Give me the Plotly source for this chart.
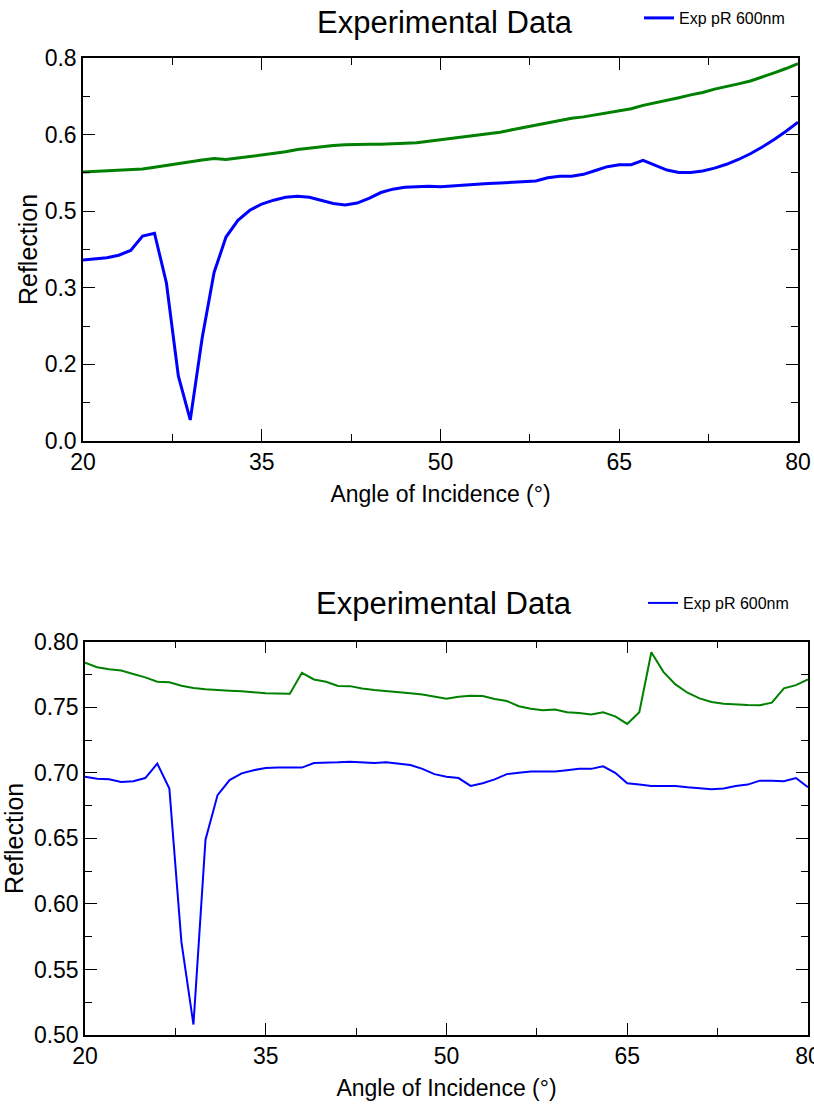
import plotly.graph_objects as go

# Angles of incidence, one reading per degree
angle = list(range(20, 81))

# Upper panel: reflectance curves
upper_pR = [0.378, 0.380, 0.383, 0.388, 0.398, 0.428, 0.434, 0.330, 0.136, 0.044,
            0.215, 0.352, 0.426, 0.461, 0.482, 0.495, 0.503, 0.509, 0.511, 0.509,
            0.503, 0.496, 0.493, 0.497, 0.507, 0.519, 0.526, 0.530, 0.531, 0.532,
            0.531, 0.533, 0.535, 0.537, 0.538, 0.539, 0.540, 0.542, 0.543, 0.550,
            0.553, 0.553, 0.557, 0.565, 0.573, 0.577, 0.577, 0.586, 0.576, 0.566,
            0.561, 0.561, 0.564, 0.570, 0.578, 0.588, 0.600, 0.614, 0.630, 0.647,
            0.666]
upper_ref = [0.562, 0.563, 0.564, 0.566, 0.567, 0.568, 0.572, 0.576, 0.580, 0.584,
             0.587, 0.590, 0.588, 0.591, 0.594, 0.597, 0.601, 0.604, 0.609, 0.612,
             0.615, 0.617, 0.619, 0.620, 0.620, 0.620, 0.621, 0.621, 0.623, 0.626,
             0.629, 0.632, 0.635, 0.638, 0.641, 0.645, 0.650, 0.655, 0.660, 0.665,
             0.669, 0.674, 0.677, 0.681, 0.685, 0.690, 0.694, 0.701, 0.706, 0.711,
             0.717, 0.723, 0.728, 0.735, 0.740, 0.746, 0.752, 0.760, 0.769, 0.778,
             0.788]

# Lower panel: reflectance curves
lower_pR = [0.697, 0.6955, 0.695, 0.693, 0.6935, 0.696, 0.707, 0.688, 0.571, 0.508,
            0.649, 0.683, 0.6945, 0.6996, 0.702, 0.7037, 0.704, 0.704, 0.704, 0.7075,
            0.7075, 0.708, 0.7085, 0.708, 0.7075, 0.708, 0.707, 0.706, 0.703, 0.699,
            0.697, 0.696, 0.690, 0.692, 0.695, 0.699, 0.700, 0.701, 0.701, 0.701,
            0.702, 0.703, 0.703, 0.705, 0.700, 0.692, 0.691, 0.690, 0.690, 0.690,
            0.689, 0.688, 0.6875, 0.688, 0.690, 0.691, 0.694, 0.694, 0.6935, 0.696,
            0.689]
lower_ref = [0.784, 0.7805, 0.779, 0.778, 0.7754, 0.7728, 0.7695, 0.769, 0.7664, 0.7647,
             0.7637, 0.763, 0.7626, 0.7622, 0.7614, 0.7606, 0.7605, 0.7603, 0.7763, 0.7712,
             0.7694, 0.7663, 0.7661, 0.7643, 0.7631, 0.7621, 0.7611, 0.7606, 0.7598, 0.7583,
             0.7565, 0.758, 0.7588, 0.7586, 0.7563, 0.7548, 0.7508, 0.7488, 0.7477, 0.7482,
             0.7462, 0.7457, 0.7444, 0.7462, 0.7431, 0.7373, 0.7462, 0.7919, 0.777, 0.7674,
             0.7611, 0.7568, 0.754, 0.7527, 0.752, 0.7517, 0.7515, 0.7535, 0.7644, 0.7669,
             0.7712]

# Axis ticks
x_ticks = [20, 35, 50, 65, 80]
x_minor = [27.5, 42.5, 57.5, 72.5]
upper_y_ticks = [0.0, 0.16, 0.32, 0.48, 0.64, 0.8]
upper_y_labels = ["0.0", "0.2", "0.3", "0.5", "0.6", "0.8"]
upper_y_minor = [0.08, 0.24, 0.40, 0.56, 0.72]
lower_y_ticks = [0.50, 0.55, 0.60, 0.65, 0.70, 0.75, 0.80]
lower_y_labels = ["0.50", "0.55", "0.60", "0.65", "0.70", "0.75", "0.80"]
lower_y_minor = [0.525, 0.575, 0.625, 0.675, 0.725, 0.775]

series_name = "Exp pR 600nm"
BLUE = "#0000FF"
GREEN = "#008000"
FONT = "Liberation Sans, Arial, sans-serif"

W, H = 814, 1106


def px_x(v):
    return v / W


def px_y(v):
    return 1 - v / H


fig = go.Figure()

fig.add_trace(go.Scatter(x=angle, y=upper_ref, mode="lines", line=dict(color=GREEN, width=3),
                         showlegend=False, xaxis="x", yaxis="y"))
fig.add_trace(go.Scatter(x=angle, y=upper_pR, mode="lines", line=dict(color=BLUE, width=3),
                         name=series_name, legend="legend", xaxis="x", yaxis="y"))
fig.add_trace(go.Scatter(x=angle, y=lower_ref, mode="lines", line=dict(color=GREEN, width=2),
                         showlegend=False, xaxis="x2", yaxis="y2"))
fig.add_trace(go.Scatter(x=angle, y=lower_pR, mode="lines", line=dict(color=BLUE, width=2),
                         name=series_name, legend="legend2", xaxis="x2", yaxis="y2"))

minor_style = dict(tickmode="array", ticks="inside", ticklen=7, tickwidth=1.2, tickcolor="#000000")

axis_common = dict(
    showline=True, linecolor="#000000", linewidth=1.5, mirror="ticks",
    ticks="inside", ticklen=12, tickwidth=1.2, tickcolor="#000000",
    showgrid=False, zeroline=False, automargin=False, ticklabeloverflow="allow",
    tickfont=dict(family=FONT, size=23, color="#000000"),
)

x_axis = dict(axis_common, range=[20, 80], tickmode="array", tickvals=x_ticks,
              minor=dict(minor_style, tickvals=x_minor),
              title=dict(text="Angle of Incidence (°)", font=dict(family=FONT, size=23, color="#000000"),
                         standoff=12))


def y_title(gap):
    return dict(text="Reflection", font=dict(family=FONT, size=25, color="#000000"), standoff=gap)


fig.update_layout(
    width=W, height=H,
    margin=dict(l=0, r=0, t=0, b=0),
    paper_bgcolor="white", plot_bgcolor="white",
    font=dict(family=FONT, color="#000000"),
    xaxis=dict(x_axis, domain=[px_x(83), px_x(798)], anchor="y"),
    yaxis=dict(axis_common, domain=[px_y(441), px_y(58)], anchor="x", range=[0, 0.8],
               tickmode="array", tickvals=upper_y_ticks, ticktext=upper_y_labels,
               minor=dict(minor_style, tickvals=upper_y_minor),
               title=y_title(0)),
    xaxis2=dict(x_axis, domain=[px_x(85), px_x(808)], anchor="y2"),
    yaxis2=dict(axis_common, domain=[px_y(1035), px_y(641.7)], anchor="x2", range=[0.5, 0.8],
                tickmode="array", tickvals=lower_y_ticks, ticktext=lower_y_labels,
                minor=dict(minor_style, tickvals=lower_y_minor),
                title=y_title(8)),
    legend=dict(x=px_x(639), y=px_y(18), xanchor="left", yanchor="middle",
                bgcolor="rgba(0,0,0,0)", font=dict(family=FONT, size=16, color="#000000"),
                itemwidth=30, tracegroupgap=0),
    legend2=dict(x=px_x(643), y=px_y(603), xanchor="left", yanchor="middle",
                 bgcolor="rgba(0,0,0,0)", font=dict(family=FONT, size=16, color="#000000"),
                 itemwidth=30, tracegroupgap=0),
    annotations=[
        dict(text="Experimental Data", x=px_x(445), y=px_y(22), xref="paper", yref="paper",
             xanchor="center", yanchor="middle", showarrow=False,
             font=dict(family=FONT, size=31, color="#000000")),
        dict(text="Experimental Data", x=px_x(444), y=px_y(603), xref="paper", yref="paper",
             xanchor="center", yanchor="middle", showarrow=False,
             font=dict(family=FONT, size=31, color="#000000")),
    ],
)

fig.write_html("out.html")
